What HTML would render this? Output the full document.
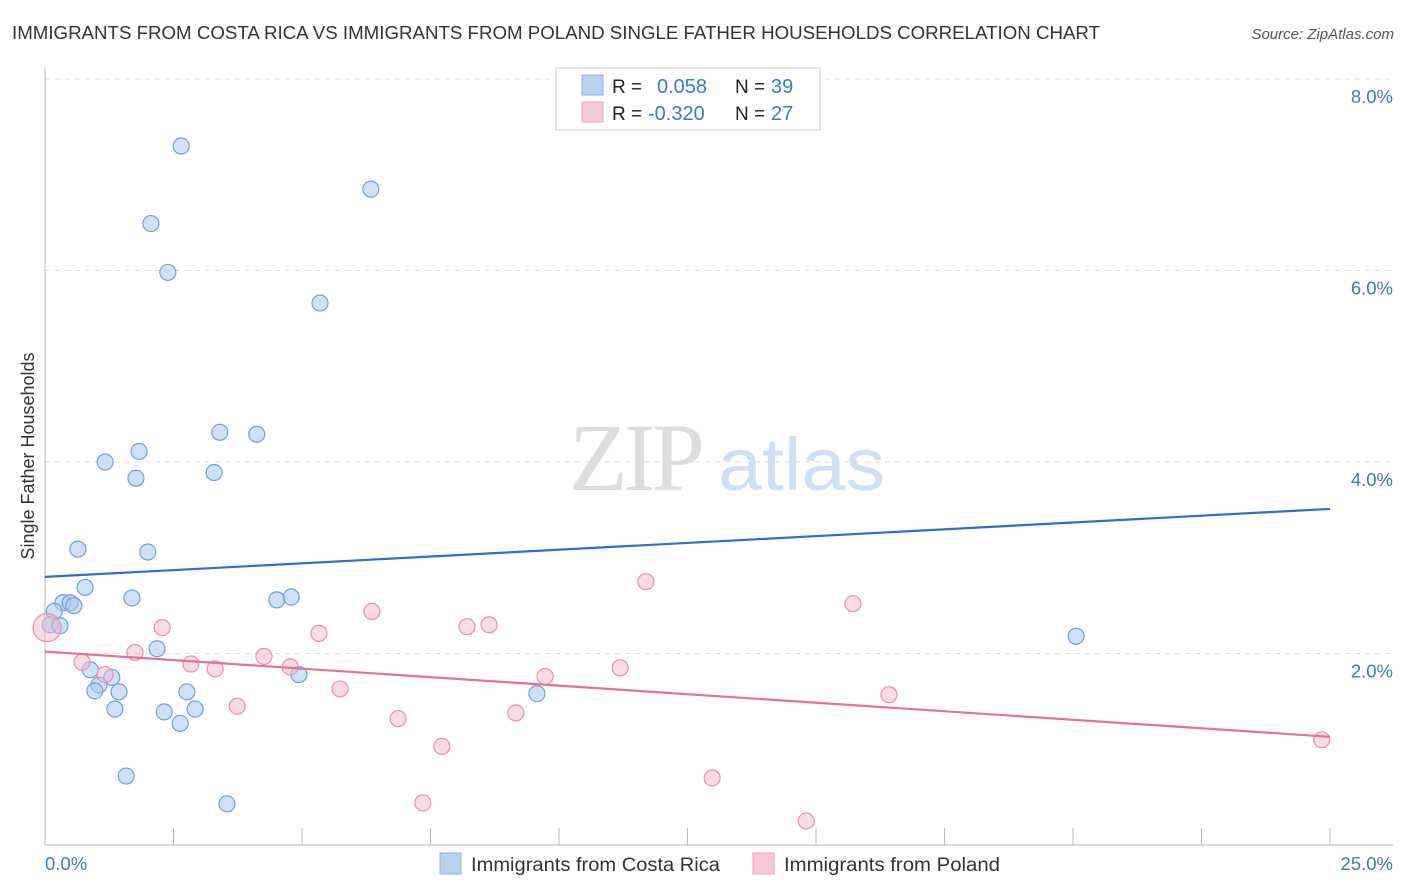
<!DOCTYPE html>
<html><head><meta charset="utf-8">
<style>
body{margin:0;background:#fff;font-family:"Liberation Sans",sans-serif;}
svg{display:block}
</style></head>
<body>
<svg id="chart" width="1406" height="892" xmlns="http://www.w3.org/2000/svg">
<text x="12" y="39" font-size="18" fill="#333" textLength="1088" lengthAdjust="spacingAndGlyphs">IMMIGRANTS FROM COSTA RICA VS IMMIGRANTS FROM POLAND SINGLE FATHER HOUSEHOLDS CORRELATION CHART</text>
<text x="1394" y="39" font-size="15" fill="#555" font-style="italic" text-anchor="end">Source: ZipAtlas.com</text>
<g>
<text x="635" y="490" font-size="96" fill="#ddd" text-anchor="middle" font-family="Liberation Serif,serif" letter-spacing="-4">ZIP</text>
<text x="718" y="490" font-size="74" fill="#cfe0f5" textLength="167" lengthAdjust="spacingAndGlyphs">atlas</text>
</g>
<g id="grid"></g>
<g id="axes"></g>
<g id="marks"></g>
<text x="34" y="456" font-size="18" fill="#333" text-anchor="middle" transform="rotate(-90 34 456)">Single Father Households</text>
<g>
<rect x="556" y="68" width="264" height="62" fill="#fff" stroke="#ccc"/>
<rect x="582" y="75" width="21" height="20" fill="#b8d2f4" stroke="#8ab4ea"/>
<rect x="582" y="102" width="21" height="20" fill="#fcc8d8" stroke="#f0a0ba"/>
<text x="612" y="93" font-size="19" fill="#222">R =</text>
<text x="657" y="93" font-size="20" fill="#3b78d8">0.058</text>
<text x="735" y="93" font-size="19" fill="#222">N =</text>
<text x="771" y="93" font-size="20" fill="#3b78d8">39</text>
<text x="612" y="120" font-size="19" fill="#222">R =</text>
<text x="648" y="120" font-size="20" fill="#3b78d8">-0.320</text>
<text x="735" y="120" font-size="19" fill="#222">N =</text>
<text x="771" y="120" font-size="20" fill="#3b78d8">27</text>
</g>
<g>
<rect x="440" y="853" width="21" height="21" fill="#b8d2f4" stroke="#8ab4ea"/>
<text x="471" y="871" font-size="19" fill="#333" textLength="249" lengthAdjust="spacingAndGlyphs">Immigrants from Costa Rica</text>
<rect x="753" y="853" width="21" height="21" fill="#fcc8d8" stroke="#f0a0ba"/>
<text x="784" y="871" font-size="19" fill="#333" textLength="216" lengthAdjust="spacingAndGlyphs">Immigrants from Poland</text>
</g>
</svg>
<script>
const blueX=[2.65,2.06,6.34,2.39,5.35,3.40,4.12,1.83,1.17,3.29,1.77,0.64,2.00,0.78,0.35,0.49,0.56,0.18,1.69,4.51,4.79,0.10,0.29,2.18,20.06,0.88,1.30,1.05,0.97,1.44,2.76,4.94,9.57,1.36,2.32,2.92,2.63,1.58,3.54];
const blueY=[7.30,6.49,6.85,5.98,5.66,4.31,4.29,4.11,4.00,3.89,3.83,3.09,3.06,2.69,2.53,2.53,2.50,2.44,2.58,2.56,2.59,2.30,2.29,2.05,2.18,1.83,1.75,1.67,1.61,1.60,1.60,1.78,1.58,1.42,1.39,1.42,1.27,0.72,0.43];
const pinkX=[0.04,0.72,1.17,1.75,2.28,2.84,3.31,3.74,4.26,4.77,5.33,5.74,6.36,6.87,7.35,7.72,8.21,8.64,9.16,9.73,11.19,11.69,12.98,14.81,15.72,16.42,24.84];
const pinkY=[2.27,1.91,1.78,2.01,2.27,1.89,1.84,1.45,1.97,1.86,2.21,1.63,2.44,1.32,0.44,1.03,2.28,2.30,1.38,1.76,1.85,2.75,0.70,0.25,2.52,1.57,1.10];
const blueTrend=[2.80,3.51];
const pinkTrend=[2.02,1.13];
const yTicks=[2,4,6,8];
const yTickLabels=["2.0%","4.0%","6.0%","8.0%"];
const xTicks=[0,2.5,5,7.5,10,12.5,15,17.5,20,22.5,25];
const xEndLabels=["0.0%","25.0%"];

const NS="http://www.w3.org/2000/svg";
const xs=v=>45+v*51.4;
const ys=v=>845-v*95.75;
function mk(tag,attrs,parent){const e=document.createElementNS(NS,tag);for(const k in attrs)e.setAttribute(k,attrs[k]);parent.appendChild(e);return e;}
const grid=document.getElementById('grid'),axes=document.getElementById('axes'),marks=document.getElementById('marks');
yTicks.forEach((t,i)=>{
  const l=mk('line',{x1:45,x2:1393,y1:ys(t),y2:ys(t),stroke:'#ddd','stroke-dasharray':'5,5'},grid);
  
  
  const tx=mk('text',{x:1393,y:ys(t)+24,'font-size':18.5,fill:'#3b78d8','text-anchor':'end'},axes);
  tx.textContent=yTickLabels[i];
  
  
});
const ax=mk('line',{x1:45,x2:45,y1:68,y2:845,stroke:'#bbb'},axes);


const bx=mk('line',{x1:45,x2:1393,y1:845,y2:845,stroke:'#bbb'},axes);


xTicks.forEach(t=>{
  const l=mk('line',{x1:xs(t),x2:xs(t),y1:828,y2:845,stroke:'#bbb'},axes);
  
  
});
const xl0=mk('text',{x:45,y:870,'font-size':18.5,fill:'#3b78d8'},axes);xl0.textContent=xEndLabels[0];


const xl1=mk('text',{x:1393,y:870,'font-size':18.5,fill:'#3b78d8','text-anchor':'end'},axes);xl1.textContent=xEndLabels[1];



blueX.forEach((x,i)=>{
  const c=mk('circle',{cx:xs(x),cy:ys(blueY[i]),r:8,fill:'rgba(168,200,240,0.55)',stroke:'#6fa0e0','stroke-width':1.2},marks);
  
  
});
pinkX.forEach((x,i)=>{
  const c=mk('circle',{cx:xs(x),cy:ys(pinkY[i]),r:i===0?14:8,fill:'rgba(245,184,204,0.5)',stroke:'#e890ae','stroke-width':1.2},marks);
  
  
});
const tb=mk('line',{x1:xs(0),x2:xs(25),y1:ys(blueTrend[0]),y2:ys(blueTrend[1]),stroke:'#2a6fd4','stroke-width':2.2},marks);


const tp=mk('line',{x1:xs(0),x2:xs(25),y1:ys(pinkTrend[0]),y2:ys(pinkTrend[1]),stroke:'#e6709a','stroke-width':2.2},marks);


</script>
</body></html>
